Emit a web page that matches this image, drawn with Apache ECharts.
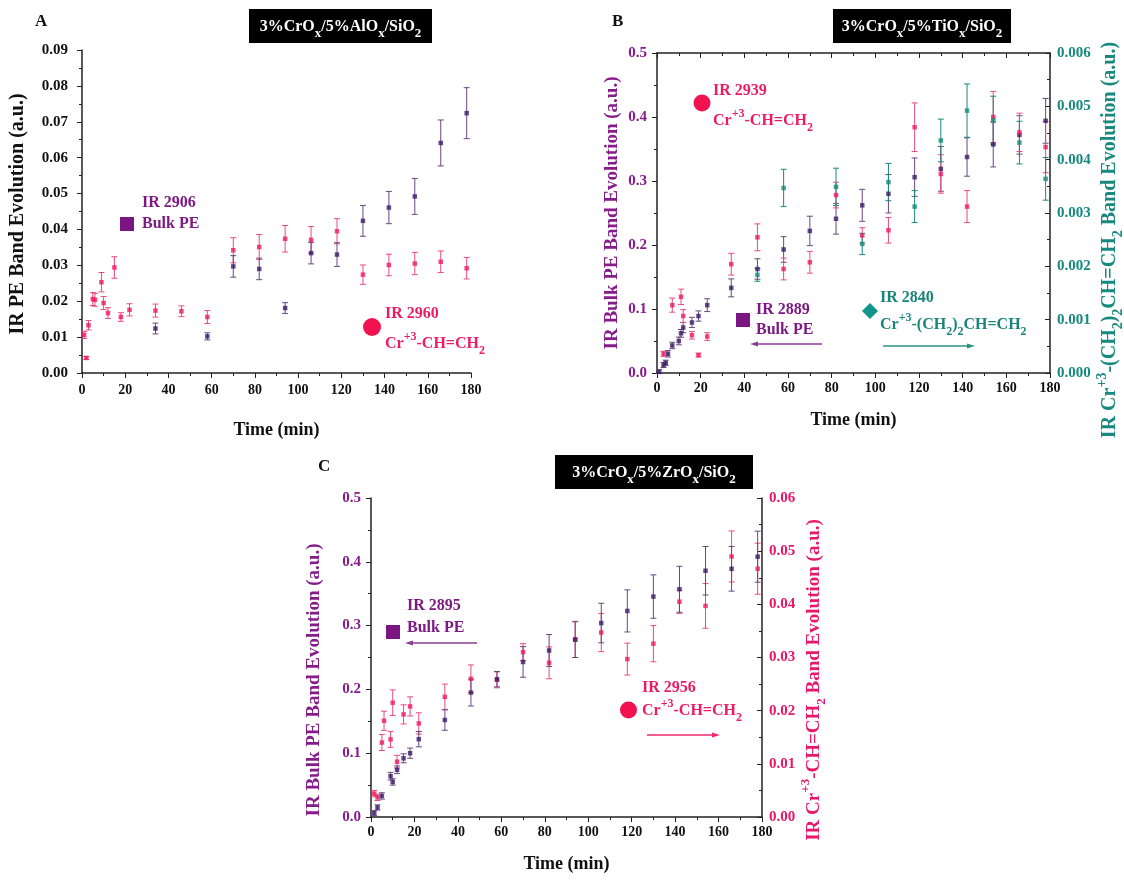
<!DOCTYPE html>
<html><head><meta charset="utf-8">
<script src="https://cdn.jsdelivr.net/npm/echarts@6/dist/echarts.min.js"></script>
<style>html,body{margin:0;padding:0;background:#fff}#c{width:1124px;height:883px}</style>
</head><body><div id="c"></div><script>
// ---------- Panel A (3%CrOx/5%AlOx/SiO2) ----------
const A_time_pe = [34,58,70,82,94,106,118,130,142,154,166,178];
const A_pe      = [0.0124,0.0102,0.0297,0.0290,0.0181,0.0334,0.0330,0.0424,0.0461,0.0492,0.0641,0.0724];
const A_pe_err  = [0.0015,0.0010,0.0030,0.0030,0.0015,0.0030,0.0033,0.0043,0.0045,0.0050,0.0064,0.0071];
const A_time_cr = [1,2,3,5,6,9,10,12,15,18,22,34,46,58,70,82,94,106,118,130,142,154,166,178];
const A_cr      = [0.0106,0.0042,0.0133,0.0206,0.0204,0.0253,0.0195,0.0167,0.0294,0.0156,0.0176,0.0174,0.0172,0.0156,0.0342,0.0351,0.0374,0.0371,0.0395,0.0274,0.0301,0.0305,0.0310,0.0292];
const A_cr_err  = [0.0010,0.0004,0.0013,0.0018,0.0018,0.0027,0.0018,0.0015,0.0030,0.0012,0.0017,0.0018,0.0015,0.0018,0.0035,0.0035,0.0037,0.0037,0.0035,0.0027,0.0030,0.0031,0.0030,0.0030];
// ---------- Panel B (3%CrOx/5%TiOx/SiO2) ----------
const B_time_pe = [1,3,4,5,7,10,11,12,16,19,23,34,46,58,70,82,94,106,118,130,142,154,166,178];
const B_pe      = [0.002,0.0125,0.016,0.030,0.043,0.050,0.062,0.071,0.079,0.089,0.106,0.133,0.1625,0.193,0.222,0.241,0.262,0.280,0.306,0.319,0.3375,0.357,0.372,0.394];
const B_pe_err  = [0.003,0.004,0.004,0.005,0.005,0.006,0.006,0.008,0.008,0.008,0.010,0.014,0.016,0.020,0.023,0.024,0.025,0.030,0.030,0.035,0.030,0.035,0.030,0.035];
const B_time_cr = [3,7,11,12,16,19,23,34,46,58,70,82,94,106,118,130,142,154,166,178];
const B_cr      = [0.030,0.106,0.119,0.089,0.059,0.028,0.057,0.170,0.212,0.1625,0.173,0.278,0.215,0.223,0.384,0.311,0.260,0.400,0.376,0.353];
const B_cr_err  = [0.004,0.011,0.012,0.010,0.006,0.003,0.006,0.017,0.021,0.017,0.017,0.020,0.012,0.020,0.038,0.030,0.025,0.040,0.030,0.040];
const B_time_al = [46,58,82,94,106,118,130,142,154,166,178];
const B_al      = [0.00184,0.00347,0.00349,0.00242,0.00358,0.00312,0.00436,0.00492,0.00474,0.00432,0.00364];
const B_al_err  = [0.00012,0.00035,0.00035,0.00020,0.00035,0.00030,0.00040,0.00050,0.00045,0.00040,0.00040];
// ---------- Panel C (3%CrOx/5%ZrOx/SiO2) ----------
const C_time_pe = [1.5,3,5,9,10,12,15,18,22,34,46,58,70,82,94,106,118,130,142,154,166,178];
const C_pe      = [0.006,0.015,0.033,0.064,0.055,0.074,0.092,0.100,0.122,0.152,0.195,0.216,0.243,0.261,0.278,0.304,0.323,0.3455,0.357,0.386,0.389,0.408];
const C_pe_err  = [0.004,0.004,0.005,0.006,0.005,0.006,0.007,0.008,0.012,0.016,0.021,0.012,0.024,0.025,0.028,0.031,0.033,0.034,0.036,0.038,0.035,0.040];
const C_time_cr = [1.5,3,5,6,9,10,12,15,18,22,34,46,58,70,82,94,106,118,130,142,154,166,178];
const C_cr      = [0.0044,0.0037,0.0140,0.0181,0.0146,0.0215,0.0104,0.0193,0.0208,0.0176,0.0226,0.0260,0.0258,0.0310,0.0290,0.0334,0.0347,0.0297,0.0326,0.0405,0.0397,0.0490,0.0467];
const C_cr_err  = [0.0006,0.0006,0.0015,0.0018,0.0015,0.0024,0.0012,0.0018,0.0018,0.0020,0.0024,0.0026,0.0015,0.0016,0.0030,0.0034,0.0036,0.0030,0.0034,0.0022,0.0042,0.0048,0.0048];
// ---------- ticks ----------
const timeTicks = {min:0, max:180, interval:20};

const FONT = 'Liberation Serif';
const PE_PT = '#3b1d68', PE_BAR = '#6a4680';
const PINK = '#ee1b5e', PINK_BAR = '#e94a82';
const TEAL = '#17897e';
const PURP_TXT = '#861c8a';
const CPINK = '#e8176a';

function errSeries(times, vals, errs, color, xi, yi){
  return {type:'custom', xAxisIndex:xi, yAxisIndex:yi, silent:true, z:2,
    dimensions:['t','v','e'], encode:{x:0,y:1},
    data: times.map((t,i)=>[t, vals[i], errs[i]]),
    renderItem:(p,api)=>{
      const x=api.value(0), y=api.value(1), e=api.value(2);
      const a=api.coord([x,y+e]), b=api.coord([x,y-e]);
      const st={stroke:color,lineWidth:1};
      return {type:'group',children:[
        {type:'line',shape:{x1:a[0],y1:a[1],x2:b[0],y2:b[1]},style:st},
        {type:'line',shape:{x1:a[0]-3,y1:a[1],x2:a[0]+3,y2:a[1]},style:st},
        {type:'line',shape:{x1:b[0]-3,y1:b[1],x2:b[0]+3,y2:b[1]},style:st}]};
    }};
}
function ptSeries(times, vals, color, xi, yi){
  return {type:'scatter', xAxisIndex:xi, yAxisIndex:yi, z:3, symbol:'rect', symbolSize:4.5,
    itemStyle:{color:color}, data: times.map((t,i)=>[t, vals[i]])};
}

const lab = (c,fs)=>({color:c, fontFamily:FONT, fontWeight:'bold', fontSize:fs||13});
function xAx(grid, opt){
  return Object.assign({type:'value', gridIndex:grid, min:timeTicks.min, max:timeTicks.max, interval:timeTicks.interval,
    axisLine:{show:true, onZero:false, lineStyle:{color:'#222',width:1.5}},
    axisTick:{show:true, length:5, lineStyle:{color:'#222'}},
    minorTick:{show:true, splitNumber:2, length:3, lineStyle:{color:'#222'}},
    splitLine:{show:false},
    axisLabel:Object.assign(lab('#111',14),{margin:8}),
    name:'Time (min)', nameLocation:'middle', nameGap:42,
    nameTextStyle:{color:'#111', fontFamily:FONT, fontWeight:'bold', fontSize:18}}, opt||{});
}
function yAx(grid, min, max, interval, dec, color, opt){
  return Object.assign({type:'value', gridIndex:grid, min:min, max:max, interval:interval,
    axisLine:{show:true, onZero:false, lineStyle:{color:'#222',width:1.5}},
    axisTick:{show:true, length:5, lineStyle:{color:'#222'}},
    minorTick:{show:true, splitNumber:2, length:3, lineStyle:{color:'#222'}},
    splitLine:{show:false},
    axisLabel:Object.assign(lab(color,15),{margin:10, formatter:(v)=>v.toFixed(dec)})}, opt||{});
}
const inTick = {axisTick:{show:true,inside:true,length:5,lineStyle:{color:'#222'}}, minorTick:{show:true,splitNumber:2,length:3,lineStyle:{color:'#222'}}};

const option = {
  animation:false,
  backgroundColor:'#fff',
  grid:[
    {left:82, top:50, width:389, height:323},
    {left:657, top:53, width:393, height:320},
    {left:371, top:498, width:391, height:319}
  ],
  xAxis:[
    xAx(0,{nameGap:48, axisLabel:Object.assign(lab('#111',14),{margin:10})}),
    xAx(1,{nameGap:38}),
    xAx(1,Object.assign({position:'top', name:'', axisLabel:{show:false}}, inTick)),
    xAx(2,{nameGap:38})
  ],
  yAxis:[
    yAx(0,0,0.09,0.01,2,'#111',{axisLabel:Object.assign(lab('#111',15),{margin:14, formatter:(v)=>v.toFixed(2)})}),
    yAx(1,0,0.5,0.1,1,PURP_TXT),
    yAx(1,0,0.006,0.001,3,TEAL,Object.assign({position:'right', axisLabel:Object.assign(lab(TEAL,15),{margin:7, formatter:(v)=>v.toFixed(3)})}, inTick)),
    yAx(2,0,0.5,0.1,1,PURP_TXT),
    yAx(2,0,0.06,0.01,2,CPINK,Object.assign({position:'right', axisLabel:Object.assign(lab(CPINK,15),{margin:7, formatter:(v)=>v.toFixed(2)})}, inTick))
  ],
  series:[
    errSeries(A_time_cr,A_cr,A_cr_err,PINK_BAR,0,0), ptSeries(A_time_cr,A_cr,PINK,0,0),
    errSeries(A_time_pe,A_pe,A_pe_err,PE_BAR,0,0), ptSeries(A_time_pe,A_pe,PE_PT,0,0),
    errSeries(B_time_pe,B_pe,B_pe_err,PE_BAR,1,1), ptSeries(B_time_pe,B_pe,PE_PT,1,1),
    errSeries(B_time_cr,B_cr,B_cr_err,PINK_BAR,1,1), ptSeries(B_time_cr,B_cr,PINK,1,1),
    errSeries(B_time_al,B_al,B_al_err,TEAL,1,2), ptSeries(B_time_al,B_al,TEAL,1,2),
    errSeries(C_time_cr,C_cr,C_cr_err,PINK_BAR,3,4), ptSeries(C_time_cr,C_cr,PINK,3,4),
    errSeries(C_time_pe,C_pe,C_pe_err,PE_BAR,3,3), ptSeries(C_time_pe,C_pe,PE_PT,3,3)
  ],
  graphic:[]
};

// ---------- annotations ----------
const G = option.graphic;
const grich = (c,fs,sr)=>({
  n:{fill:c, fontFamily:FONT, fontWeight:'bold', fontSize:fs, lineHeight:fs+10, verticalAlign:'middle'},
  sup:{fill:c, fontFamily:FONT, fontWeight:'bold', fontSize:Math.round(fs*(sr||0.75)), lineHeight:Math.round(fs*(sr||0.75)), verticalAlign:'top'},
  sub:{fill:c, fontFamily:FONT, fontWeight:'bold', fontSize:Math.round(fs*(sr||0.75)), lineHeight:Math.round(fs*(sr||0.75)), verticalAlign:'bottom'}
});
function gtext(x,y,txt,color,fs,rich){
  G.push({type:'text', x:x, y:y, style:{text:txt, fill:color, font:`bold ${fs}px "${FONT}"`,
    verticalAlign:'middle', align:'left', rich: rich||undefined}});
}
function vtext(cx,cy,txt,color,fs){
  G.push({type:'text', x:cx, y:cy, rotation:Math.PI/2, style:{text:txt, fill:color, font:`bold ${fs}px "${FONT}"`,
    align:'center', verticalAlign:'middle', rich:grich(color,fs,0.7)}});
}
function titleBox(x,y,w,h,txt){
  G.push({type:'rect', shape:{x:x,y:y,width:w,height:h}, style:{fill:'#000'}});
  G.push({type:'text', x:x+w/2, y:y+h/2+1, style:{text:txt, fill:'#fff', align:'center', verticalAlign:'middle', rich:grich('#fff',16,0.8)}});
}
function arrow(x1,x2,y,color){
  const d = x2>x1 ? 1 : -1;
  G.push({type:'line', shape:{x1:x1,y1:y,x2:x2-d*6,y2:y}, style:{stroke:color,lineWidth:1.5}});
  G.push({type:'polygon', shape:{points:[[x2,y],[x2-d*8,y-2.5],[x2-d*8,y+2.5]]}, style:{fill:color}});
}
const letter = (x,y,t)=>G.push({type:'text', x:x, y:y, style:{text:t, fill:'#111', font:`bold 17px "${FONT}"`, verticalAlign:'middle'}});
letter(35,22,'A'); letter(612,22,'B'); letter(318,467,'C');
titleBox(249,9,183,34,'{n|3%CrO}{sub|x}{n|/5%AlO}{sub|x}{n|/SiO}{sub|2}');
titleBox(833,9,178,34,'{n|3%CrO}{sub|x}{n|/5%TiO}{sub|x}{n|/SiO}{sub|2}');
titleBox(555,455,198,34,'{n|3%CrO}{sub|x}{n|/5%ZrO}{sub|x}{n|/SiO}{sub|2}');

// axis titles (vertical)
vtext(18,214,'{n|IR PE Band Evolution (a.u.)}','#111',20);
vtext(612,213,'{n|IR Bulk PE Band Evolution (a.u.)}',PURP_TXT,19);
vtext(1110,240,'{n|IR Cr}{sup|+3}{n|-(CH}{sub|2}{n|)}{sub|2}{n|CH=CH}{sub|2}{n| Band Evolution (a.u.)}',TEAL,20);
vtext(314,680,'{n|IR Bulk PE Band Evolution (a.u.)}',PURP_TXT,19);
vtext(814,680,'{n|IR Cr}{sup|+3}{n|-CH=CH}{sub|2}{n| Band Evolution (a.u.)}',CPINK,19);

const SQ = '#7b1583', CIR = '#f2124f', DIA = '#12948a';
const LP = '#7d1a83', LK = '#ec1c64', LT = '#1b8479';
// A
G.push({type:'rect', shape:{x:120,y:217,width:14,height:14}, style:{fill:SQ}});
gtext(142,203,'IR 2906',LP,16); gtext(142,224,'Bulk PE',LP,16);
G.push({type:'circle', shape:{cx:372,cy:327,r:9}, style:{fill:CIR}});
gtext(385,314,'IR 2960',LK,16);
gtext(385,344,'{n|Cr}{sup|+3}{n|-CH=CH}{sub|2}',LK,16,grich(LK,16));
// B
G.push({type:'circle', shape:{cx:702,cy:103,r:8.5}, style:{fill:CIR}});
gtext(713,91,'IR 2939',LK,16);
gtext(713,121,'{n|Cr}{sup|+3}{n|-CH=CH}{sub|2}',LK,16,grich(LK,16));
G.push({type:'rect', shape:{x:736,y:313,width:14,height:14}, style:{fill:SQ}});
gtext(756,310,'IR 2889',LP,16); gtext(756,330,'Bulk PE',LP,16);
arrow(822,750,344,'#8a3e96');
G.push({type:'polygon', shape:{points:[[870,303],[878,311],[870,319],[862,311]]}, style:{fill:DIA}});
gtext(880,298,'IR 2840',LT,16);
gtext(880,325,'{n|Cr}{sup|+3}{n|-(CH}{sub|2}{n|)}{sub|2}{n|CH=CH}{sub|2}',LT,16,grich(LT,16));
arrow(883,975,346,'#2a9488');
// C
G.push({type:'rect', shape:{x:386,y:625,width:14,height:14}, style:{fill:SQ}});
gtext(407,606,'IR 2895',LP,16); gtext(407,628,'Bulk PE',LP,16);
arrow(477,405,643,'#8a3e96');
G.push({type:'circle', shape:{cx:628.5,cy:710,r:8.5}, style:{fill:CIR}});
gtext(642,688,'IR 2956',LK,16);
gtext(642,711,'{n|Cr}{sup|+3}{n|-CH=CH}{sub|2}',LK,16,grich(LK,16));
arrow(647,720,735,'#ee2a6a');

const chart = echarts.init(document.getElementById('c'), null, {renderer:'canvas'});
chart.setOption(option);
</script></body></html>
